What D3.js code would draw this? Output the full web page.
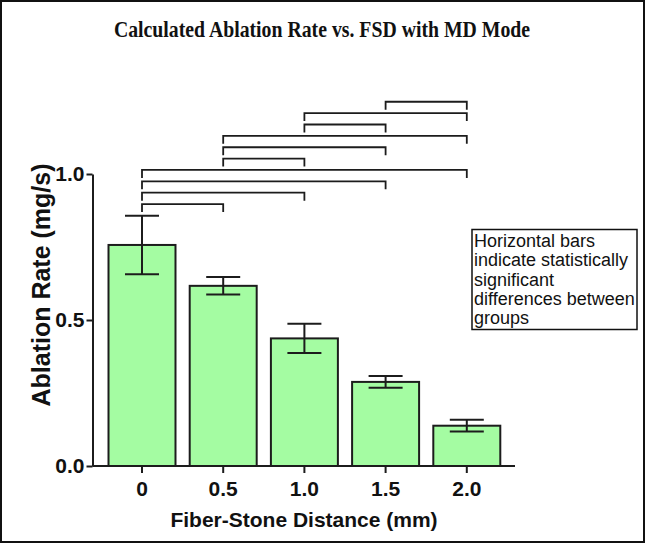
<!DOCTYPE html>
<html>
<head>
<meta charset="utf-8">
<script src="https://cdn.jsdelivr.net/npm/d3@7"></script>
<style>
  body { margin: 0; background: #fff; }
  svg { display: block; }
</style>
</head>
<body>
<div id="chart"></div>
<script>
// Data
let distances = ['0', '0.5', '1.0', '1.5', '2.0'];
let rates = [0.757, 0.617, 0.437, 0.288, 0.138];
let errors = [0.10, 0.03, 0.05, 0.02, 0.02];
let yTicks = [0.0, 0.5, 1.0];
// significant pairs, bottom bracket first
let pairs = [[0, 1], [0, 2], [0, 3], [0, 4], [1, 2], [1, 3], [1, 4], [2, 3], [2, 4], [3, 4]];
let noteLines = ['Horizontal bars', 'indicate statistically', 'significant', 'differences between', 'groups'];

let width = 645;
let height = 543;
let sans = 'Arial, "Liberation Sans", sans-serif';

let svg = d3.select('#chart')
	.append('svg')
	.attr('width', width)
	.attr('height', height)

// outer frame
svg.append('rect')
	.attr('x', 1)
	.attr('y', 1)
	.attr('width', width - 2)
	.attr('height', height - 2)
	.attr('fill', 'none')
	.attr('stroke', '#111')
	.attr('stroke-width', 2)

let x = d3.scaleBand()
	.domain(distances)
	.range([101.4, 507.4])
	.paddingInner(0.175)
	.paddingOuter(0.0875);

let y = d3.scaleLinear()
	.domain([0, 1])
	.range([466, 174]);

let cx = function(i){ return x(distances[i]) + x.bandwidth() / 2; };

// bars
svg.append('g')
	.selectAll('rect')
	.data(rates)
	.enter()
	.append('rect')
	.attr('x', function(d, i){ return x(distances[i]); })
	.attr('y', function(d){ return y(d); })
	.attr('width', x.bandwidth())
	.attr('height', function(d){ return y(0) - y(d); })
	.attr('fill', '#a4fca2')
	.attr('stroke', '#1c1c1c')
	.attr('stroke-width', 2)

// error bars
let errG = svg.append('g')
	.attr('stroke', '#1c1c1c')
	.attr('stroke-width', 2)
rates.forEach(function(d, i){
	let c = cx(i);
	errG.append('line')
		.attr('x1', c).attr('x2', c)
		.attr('y1', y(d + errors[i])).attr('y2', y(d - errors[i]));
	[d + errors[i], d - errors[i]].forEach(function(v){
		errG.append('line')
			.attr('x1', c - 17).attr('x2', c + 17)
			.attr('y1', y(v)).attr('y2', y(v));
	});
});

// axes
let xAxis = svg.append('g')
	.attr('transform', 'translate(0,' + y(0) + ')')
	.call(d3.axisBottom(x).tickSize(7).tickPadding(8).tickSizeOuter(0));
xAxis.select('.domain').attr('d', 'M92.5,0H515');

let yAxis = svg.append('g')
	.attr('transform', 'translate(92.5,0)')
	.call(d3.axisLeft(y).tickValues(yTicks).tickFormat(d3.format('.1f')).tickSize(6).tickPadding(2).tickSizeOuter(0));

svg.selectAll('.domain, .tick line')
	.attr('stroke', '#1c1c1c')
	.attr('stroke-width', 2)
svg.selectAll('.tick text')
	.attr('fill', '#111')
	.style('font-family', sans)
	.style('font-weight', 'bold')
	.style('font-size', '21px')

// significance brackets
let brG = svg.append('g')
	.attr('fill', 'none')
	.attr('stroke', '#1c1c1c')
	.attr('stroke-width', 1.8)
pairs.forEach(function(p, k){
	let ly = y(0.897) - k * 11.37;
	brG.append('path')
		.attr('d', 'M' + cx(p[0]) + ',' + (ly + 8) + 'V' + ly + 'H' + cx(p[1]) + 'V' + (ly + 8));
});

// note box
svg.append('rect')
	.attr('x', 472)
	.attr('y', 229.5)
	.attr('width', 165)
	.attr('height', 100)
	.attr('fill', '#fff')
	.attr('stroke', '#111')
	.attr('stroke-width', 1.5)
svg.append('g')
	.selectAll('text')
	.data(noteLines)
	.enter()
	.append('text')
	.text(function(d){ return d; })
	.attr('x', 474)
	.attr('y', function(d, i){ return 247 + i * 19.3; })
	.style('font-family', sans)
	.style('font-size', '18px')
	.attr('fill', '#111')

// titles
svg.append('text')
	.text('Calculated Ablation Rate vs. FSD with MD Mode')
	.attr('text-anchor', 'middle')
	.attr('transform', 'translate(322,37) scale(0.86,1)')
	.style('font-family', '"Times New Roman", "Liberation Serif", serif')
	.style('font-weight', 'bold')
	.style('font-size', '23px')
	.attr('fill', '#111')

svg.append('text')
	.text('Fiber-Stone Distance (mm)')
	.attr('x', 304)
	.attr('y', 527)
	.attr('text-anchor', 'middle')
	.style('font-family', sans)
	.style('font-weight', 'bold')
	.style('font-size', '21px')
	.attr('fill', '#111')

svg.append('text')
	.text('Ablation Rate (mg/s)')
	.attr('transform', 'translate(50,285) rotate(-90)')
	.attr('text-anchor', 'middle')
	.style('font-family', sans)
	.style('font-weight', 'bold')
	.style('font-size', '25px')
	.attr('fill', '#111')
</script>
</body>
</html>
